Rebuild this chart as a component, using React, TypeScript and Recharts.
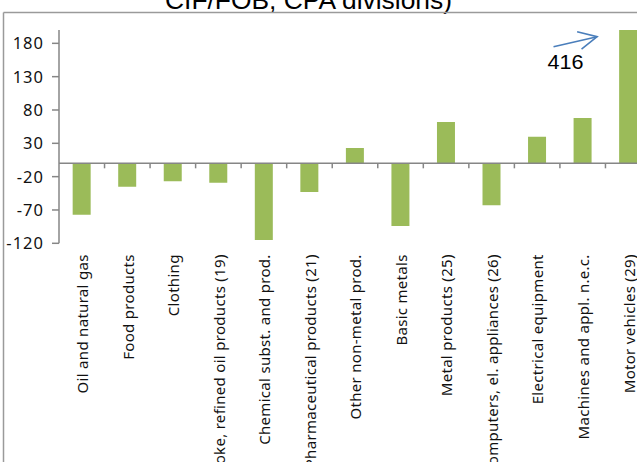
import React from "react";
import { BarChart, Bar, XAxis, YAxis, ReferenceLine, LabelList } from "recharts";

const categories = [
  "Oil and natural gas",
  "Food products",
  "Clothing",
  "Coke, refined oil products (19)",
  "Chemical subst. and prod.",
  "Pharmaceutical products (21)",
  "Other non-metal prod.",
  "Basic metals",
  "Metal products (25)",
  "Computers, el. appliances (26)",
  "Electrical equipment",
  "Machines and appl. n.e.c.",
  "Motor vehicles (29)",
];
const values = [-77, -35, -27, -29, -115, -43, 23, -94, 62, -63, 40, 68, 416];
const yTicks = [-120, -70, -20, 30, 80, 130, 180];
const yDomain = [-120, 200];
const titleText = "CIF/FOB, CPA divisions)";

const data = categories.map((name, i) => ({ name, value: values[i] }));

const GREEN = "#9BBB59";
const AXIS = "#868686";
const FONT = "'Noto Sans', 'Open Sans', sans-serif";

const CategoryTick = (props: any) => {
  const { x, y, payload } = props;
  return (
    <g transform={`translate(${x},${y})`}>
      <text
        transform="rotate(-90)"
        textAnchor="end"
        dy="0.42em"
        fontFamily={FONT}
        fontSize={15}
        letterSpacing={0.3}
        fill="#111"
      >
        {payload.value}
      </text>
    </g>
  );
};

const ZeroLine = (props: any) => {
  const { x1, y1, x2 } = props;
  const n = categories.length;
  const step = (x2 - x1) / n;
  const ticks = [];
  for (let i = 1; i < n; i++) {
    const tx = x1 + i * step;
    ticks.push(<line key={i} x1={tx} y1={y1} x2={tx} y2={y1 + 5} stroke={AXIS} strokeWidth={1.5} />);
  }
  return (
    <g>
      <line x1={x1} y1={y1} x2={x2} y2={y1} stroke={AXIS} strokeWidth={1.5} />
      {ticks}
    </g>
  );
};

const OverflowLabel = (props: any) => {
  const { x, y, height, index, value } = props;
  if (index !== values.length - 1) return null;
  const base = Number(y) + Number(height);
  const bx = Number(x);
  const tipX = bx - 22;
  const tipY = base - 126.6;
  return (
    <g>
      <line x1={bx - 65.6} y1={base - 116.6} x2={tipX} y2={tipY} stroke="#4A7EBB" strokeWidth={1.6} />
      <polyline
        points={`${bx - 42},${base - 131.6} ${tipX},${tipY} ${bx - 37.6},${base - 114.3}`}
        fill="none"
        stroke="#4A7EBB"
        strokeWidth={1.6}
      />
      <text
        x={bx - 71.6}
        y={base - 94}
        fontFamily="'Liberation Sans', Arial, sans-serif"
        fontSize={20}
        textLength={36}
        lengthAdjust="spacingAndGlyphs"
        fill="#000"
      >
        {value}
      </text>
    </g>
  );
};

export default function App() {
  return (
    <div
      style={{
        position: "absolute",
        left: 0,
        top: 0,
        width: 637,
        height: 462,
        overflow: "hidden",
        background: "#fff",
      }}
    >
      <svg width={637} height={462} style={{ position: "absolute", left: 0, top: 0 }}>
        <text
          x={165}
          y={8.5}
          fontFamily="'Liberation Sans', Arial, sans-serif"
          fontSize={25}
          textLength={287}
          lengthAdjust="spacingAndGlyphs"
          fill="#000"
        >
          {titleText}
        </text>
        <line x1={3.5} y1={12.5} x2={637} y2={12.5} stroke="#9a9a9a" strokeWidth={1.5} />
        <line x1={3.5} y1={12.5} x2={3.5} y2={462} stroke="#9a9a9a" strokeWidth={1.5} />
      </svg>
      <div style={{ position: "absolute", left: 0, top: 0 }}>
        <BarChart
          width={651}
          height={462}
          data={data}
          margin={{ top: 30, right: 0, left: 0, bottom: 0 }}
          barCategoryGap="30%"
        >
          <XAxis
            dataKey="name"
            axisLine={false}
            tickLine={false}
            interval={0}
            height={218.7}
            tickMargin={5}
            tick={<CategoryTick />}
          />
          <YAxis
            width={59}
            domain={yDomain}
            ticks={yTicks}
            allowDataOverflow
            interval={0}
            axisLine={{ stroke: AXIS, strokeWidth: 1.5 }}
            tickLine={{ stroke: AXIS, strokeWidth: 1.5 }}
            tickSize={7}
            tickMargin={8}
            tick={{ fontFamily: FONT, fontSize: 16.5, fill: "#111", letterSpacing: 1 }}
          />
          <Bar dataKey="value" fill={GREEN} isAnimationActive={false}>
            <LabelList dataKey="value" content={<OverflowLabel />} />
          </Bar>
          <ReferenceLine y={0} shape={<ZeroLine />} ifOverflow="extendDomain" />
        </BarChart>
      </div>
    </div>
  );
}
